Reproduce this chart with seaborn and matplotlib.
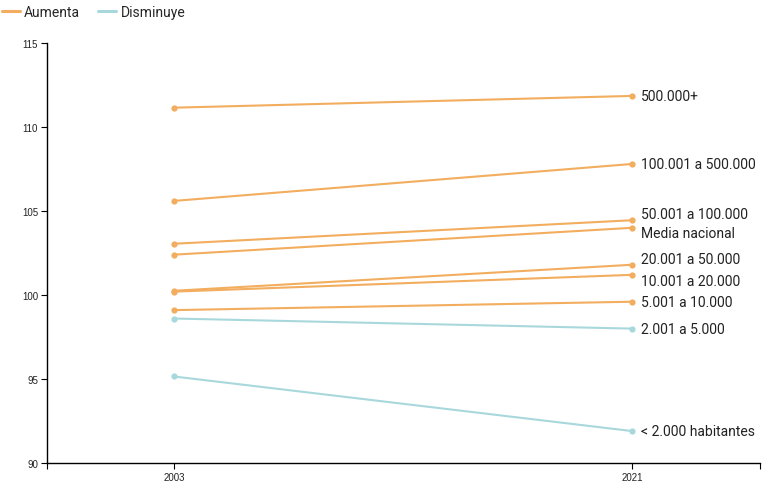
import pandas as pd
import matplotlib.pyplot as plt
import seaborn as sns
from matplotlib.lines import Line2D

# Data
groups = ['500.000+', '100.001 a 500.000', '50.001 a 100.000', 'Media nacional',
          '20.001 a 50.000', '10.001 a 20.000', '5.001 a 10.000', '2.001 a 5.000',
          '< 2.000 habitantes']
v2003 = [111.15, 105.6, 103.05, 102.4, 100.25, 100.2, 99.1, 98.6, 95.15]
v2021 = [111.85, 107.8, 104.45, 104.0, 101.8, 101.2, 99.6, 98.0, 91.9]
years = ['2003', '2021']

# label nudges (pixels) so the right-hand labels don't overlap
nudge = {'50.001 a 100.000': 6, 'Media nacional': -5, '20.001 a 50.000': 6,
         '10.001 a 20.000': -6}

rows = []
for g, a, b in zip(groups, v2003, v2021):
    trend = 'Aumenta' if b >= a else 'Disminuye'
    rows.append({'group': g, 'x': 0, 'value': a, 'trend': trend})
    rows.append({'group': g, 'x': 1, 'value': b, 'trend': trend})
df = pd.DataFrame(rows)

sns.set_style('white')
plt.rcParams['font.family'] = ['Roboto', 'DejaVu Sans']

colors = {'Aumenta': '#F2AD5E', 'Disminuye': '#A8D8DC'}

W, H = 767, 485
fig = plt.figure(figsize=(W / 100, H / 100), dpi=100)
ax = fig.add_axes([47 / W, 21 / H, (760 - 47) / W, (464 - 44) / H])

sns.lineplot(data=df, x='x', y='value', units='group', hue='trend', estimator=None,
             palette=colors, marker='o', markersize=4.5, markeredgewidth=0,
             linewidth=1.5, legend=False, ax=ax)

for g, b in zip(groups, v2021):
    ax.annotate(g, xy=(1, b), xytext=(9 * 0.72, nudge.get(g, 0) * 0.72),
                textcoords='offset points', va='center', ha='left',
                fontsize=10, color='#222222', annotation_clip=False)

ax.set_xlim(-0.277, 1.279)
ax.set_ylim(90, 115)
ax.set_xticks([0, 1])
ax.set_xticklabels(years)
ax.set_xticks([-0.277, 1.279], minor=True)
ax.set_yticks(range(90, 116, 5))
ax.set_xlabel('')
ax.set_ylabel('')
for s in ['top', 'right']:
    ax.spines[s].set_visible(False)
for s in ['left', 'bottom']:
    ax.spines[s].set_color('black')
    ax.spines[s].set_linewidth(1)
ax.tick_params(axis='both', which='both', direction='out', length=4.5, width=0.8,
               color='black', labelsize=7, labelcolor='#222222', pad=2,
               bottom=True, left=True)
for lab in ax.get_xticklabels() + ax.get_yticklabels():
    lab.set_family(['Liberation Sans', 'DejaVu Sans'])

handles = [Line2D([0], [0], color=colors[k], lw=2.2) for k in colors]
fig.legend(handles, list(colors), loc='upper left', bbox_to_anchor=(2 / W, 1 - 6 / H),
           ncol=2, frameon=False, fontsize=10, handlelength=1.3, handletextpad=0.3,
           columnspacing=1.3, borderpad=0, borderaxespad=0)

fig.savefig('out.png', dpi=100)
